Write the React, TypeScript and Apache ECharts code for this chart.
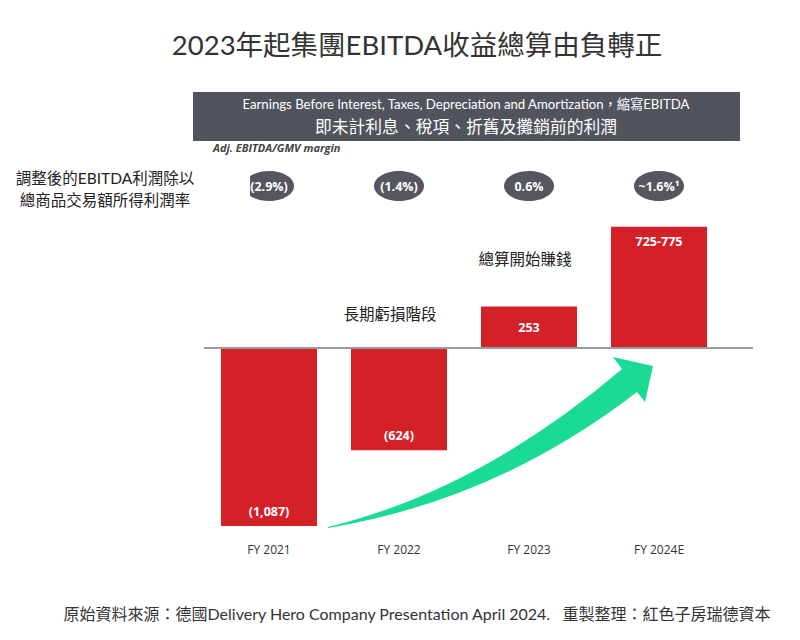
import React, { useEffect, useRef } from "react";
import * as echarts from "echarts";

const categories = ["FY 2021", "FY 2022", "FY 2023", "FY 2024E"];
const ebitda = [-1087, -624, 253, 740];
const barLabels = ["(1,087)", "(624)", "253", "725-775"];
const margins = ["(2.9%)", "(1.4%)", "0.6%", "~1.6%¹"];

const titleText = "2023年起集團EBITDA收益總算由負轉正";
const headerLine1 = "Earnings Before Interest, Taxes, Depreciation and Amortization，縮寫EBITDA";
const headerLine2 = "即未計利息、稅項、折舊及攤銷前的利潤";
const marginCaption = "Adj. EBITDA/GMV margin";
const leftNote = ["調整後的EBITDA利潤除以", "總商品交易額所得利潤率"];
const noteProfit = "總算開始賺錢";
const noteLoss = "長期虧損階段";
const footer = "原始資料來源：德國Delivery Hero Company Presentation April 2024.   重製整理：紅色子房瑞德資本";

const ARROW_D =
  "M328 527 Q480 490 622 369 L613 357 L653 366 L645 402 L637 392 Q497 500 328 528 Z";

const FONT = "Lato, 'Noto Sans CJK TC', sans-serif";
const CJK = "'Noto Sans CJK TC', sans-serif";
const OPEN = "'Open Sans', 'Noto Sans CJK TC', sans-serif";

export default function App() {
  const ref = useRef<HTMLDivElement>(null);

  useEffect(() => {
    if (!ref.current) return;
    try {
      echarts.graphic.registerShape("growthArrow", echarts.graphic.extendPath(ARROW_D, {}));
    } catch (e) {}
    const chart = echarts.init(ref.current, null, { renderer: "svg" });

    chart.setOption({
      animation: false,
      backgroundColor: "#ffffff",
      grid: { left: 204, width: 520, top: 217, height: 319.4 },
      xAxis: {
        type: "category",
        data: categories,
        axisLine: { show: false, onZero: false },
        axisTick: { show: false },
        axisLabel: { color: "#333", fontSize: 12, fontFamily: OPEN, margin: 7 },
      },
      yAxis: {
        type: "value",
        min: -1150,
        max: 800,
        show: false,
        splitLine: { show: false },
      },
      series: [
        {
          type: "bar",
          barWidth: 96,
          itemStyle: { color: "#d42027" },
          data: ebitda.map((v) => ({
            value: v,
            label: { position: v < 0 ? "insideBottom" : v > 500 ? "insideTop" : "inside", distance: 8 },
          })),
          label: {
            show: true,
            color: "#fff",
            fontWeight: "bold",
            fontSize: 12.5,
            fontFamily: OPEN,
            formatter: (p: any) => barLabels[p.dataIndex],
          },
        },
      ],
    });

    const zeroY = chart.convertToPixel({ yAxisIndex: 0 }, 0) as number;
    const centers = categories.map((_, i) => chart.convertToPixel({ xAxisIndex: 0 }, i) as number);
    const bubbleY = 186;

    const graphic: any[] = [
      {
        type: "text",
        x: 417,
        y: 44,
        style: { text: titleText, align: "center", verticalAlign: "middle", fontSize: 27.5, fill: "#333", fontFamily: FONT },
      },
      {
        type: "text",
        x: 213,
        y: 147,
        z: 1,
        style: {
          text: marginCaption,
          align: "left",
          verticalAlign: "middle",
          fontSize: 11,
          fontStyle: "italic",
          fontWeight: "bold",
          fill: "#444",
          fontFamily: OPEN,
        },
      },
      {
        type: "rect",
        z: 2,
        shape: { x: 193, y: 92, width: 547, height: 49 },
        style: { fill: "#51545c" },
      },
      {
        type: "text",
        z: 3,
        x: 466,
        y: 104,
        style: { text: headerLine1, align: "center", verticalAlign: "middle", fontSize: 13.2, fill: "#fff", fontFamily: FONT },
      },
      {
        type: "text",
        z: 3,
        x: 466,
        y: 126,
        style: { text: headerLine2, align: "center", verticalAlign: "middle", fontSize: 16.8, fill: "#fff", fontFamily: CJK },
      },
      ...leftNote.map((t, i) => ({
        type: "text",
        x: 105,
        y: 178 + i * 22,
        style: { text: t, align: "center", verticalAlign: "middle", fontSize: 15.5, fill: "#222", fontFamily: FONT },
      })),
      ...centers.map((cx) => ({
        type: "ellipse",
        z: 1,
        shape: { cx, cy: bubbleY, rx: 25, ry: 15 },
        style: { fill: "#55565f" },
      })),
      {
        type: "rect",
        z: 2,
        shape: { x: 236, y: 166, width: 14, height: 40 },
        style: { fill: "#ffffff" },
      },
      ...centers.map((cx, i) => ({
        type: "text",
        z: 3,
        x: cx,
        y: bubbleY,
        style: {
          text: margins[i],
          align: "center",
          verticalAlign: "middle",
          fontSize: 12.5,
          fontWeight: "bold",
          fill: "#fff",
          fontFamily: OPEN,
        },
      })),
      {
        type: "text",
        x: 525,
        y: 258,
        style: { text: noteProfit, align: "center", verticalAlign: "middle", fontSize: 15.5, fill: "#222", fontFamily: CJK },
      },
      {
        type: "text",
        x: 390,
        y: 313,
        style: { text: noteLoss, align: "center", verticalAlign: "middle", fontSize: 15.5, fill: "#222", fontFamily: CJK },
      },
      {
        type: "line",
        z: 5,
        shape: { x1: 204, y1: zeroY, x2: 753, y2: zeroY },
        style: { stroke: "#9a9a9a", lineWidth: 2 },
      },
      {
        type: "growthArrow",
        x: 0,
        y: 0,
        z: 6,
        style: { fill: "#19db93" },
      },
      {
        type: "text",
        x: 417,
        y: 613,
        style: { text: footer, align: "center", verticalAlign: "middle", fontSize: 16, fill: "#333", fontFamily: FONT },
      },
    ];

    chart.setOption({ graphic });

    return () => chart.dispose();
  }, []);

  return (
    <div
      ref={ref}
      style={{ position: "fixed", left: 0, top: 0, width: 800, height: 640, background: "#fff" }}
    />
  );
}
